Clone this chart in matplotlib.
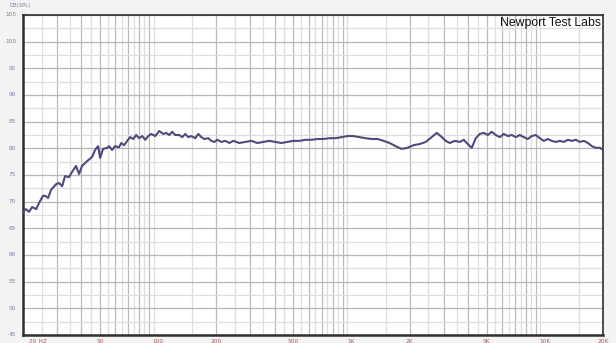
import matplotlib
matplotlib.use("Agg")
import matplotlib.pyplot as plt
from matplotlib.ticker import NullLocator

# Measured on-axis frequency response (Hz, dB SPL)
freq_hz = [20.0, 20.7, 21.5, 22.3, 23.4, 24.2, 25.4, 26.0, 27.0, 27.9, 29.7, 30.7,
           31.9, 33.0, 34.6, 35.9, 37.6, 39.0, 40.4, 42.9, 45.6, 47.2, 48.9, 50.1,
           51.9, 54.5, 55.8, 57.8, 59.9, 62.8, 64.4, 66.7, 69.2, 71.7, 74.3, 77.0,
           79.8, 82.7, 85.8, 88.9, 92.1, 96.6, 101.3, 106.3, 110.1, 114.1, 118.3,
           122.6, 128.6, 133.3, 138.2, 143.2, 148.5, 155.7, 161.4, 167.3, 173.4,
           181.9, 188.3, 195.2, 202.4, 212.3, 222.7, 233.6, 245, 263, 283, 304, 326,
           350, 376, 404, 434, 467, 501, 538, 578, 621, 667, 717, 770, 827, 889, 955,
           1025, 1101, 1183, 1271, 1365, 1466, 1575, 1692, 1818, 1952, 2097, 2253,
           2421, 2600, 2761, 2894, 3073, 3224, 3423, 3633, 3811, 3996, 4191, 4396,
           4611, 4835, 5071, 5318, 5577, 5850, 6135, 6435, 6749, 7078, 7424, 7785,
           8166, 8565, 8982, 9423, 9882, 10365, 10873, 11405, 11960, 12545, 13161,
           13804, 14477, 15183, 15930, 16709, 17525, 18380, 19290, 20000]
spl_db = [68.1, 68.6, 68.1, 69.0, 68.6, 69.75, 71.1, 71.1, 70.7, 72.2, 73.3, 73.5,
          72.9, 74.8, 74.6, 75.6, 76.7, 75.2, 76.7, 77.6, 78.4, 79.7, 80.4, 78.2,
          79.9, 80.1, 80.4, 79.7, 80.4, 80.2, 81.0, 80.6, 81.4, 82.1, 81.75, 82.5,
          81.9, 82.3, 81.6, 82.3, 82.7, 82.3, 83.25, 82.7, 82.9, 82.5, 83.1, 82.5,
          82.5, 82.1, 82.7, 82.1, 82.3, 81.9, 82.7, 82.1, 81.75, 81.9, 81.4, 81.2,
          81.6, 81.2, 81.4, 81.0, 81.4, 81.0, 81.2, 81.4, 81.0, 81.2, 81.4, 81.2,
          81.0, 81.2, 81.4, 81.4, 81.6, 81.6, 81.75, 81.75, 81.9, 81.9, 82.1, 82.3,
          82.3, 82.1, 81.9, 81.75, 81.75, 81.4, 81.0, 80.4, 79.9, 80.1, 80.6, 80.8,
          81.2, 82.1, 82.9, 82.3, 81.4, 81.0, 81.4, 81.2, 81.6, 80.8, 80.1, 81.9,
          82.7, 82.9, 82.5, 83.1, 82.5, 82.1, 82.7, 82.3, 82.5, 82.1, 82.5, 82.1,
          81.75, 82.3, 82.5, 81.9, 81.4, 81.75, 81.4, 81.2, 81.4, 81.2, 81.6, 81.4,
          81.6, 81.2, 81.4, 81.0, 80.4, 80.1, 80.1, 79.7]

# Axis labelling
x_ticks = [20, 50, 100, 200, 500, 1000, 2000, 5000, 10000, 20000]
x_tick_labels = ["20 HZ", "50", "100", "200", "500", "1K", "2K", "5K", "10K", "20K"]
y_ticks = [45, 50, 55, 60, 65, 70, 75, 80, 85, 90, 95, 100, 105]

fig = plt.figure(figsize=(6.16, 3.43), dpi=100, facecolor="#f3f3f3")
ax = fig.add_axes([23 / 616, 8 / 343, 580 / 616, 320 / 343])
ax.set_facecolor("white")
ax.set_xscale("log")
ax.set_xlim(20, 20000)
ax.set_ylim(45, 105)

# grid: whole steps darker, half steps lighter
dark_v, light_v = [], []
for base in (10, 100, 1000):
    for m in range(2, 10):
        f = m * base
        if 20 < f < 20000:
            dark_v.append(f)
light_v += list(range(25, 100, 10))
light_v += list(range(250, 1000, 100))
light_v += [150, 1500, 15000]
light_v += list(range(2500, 10000, 1000))
for f in light_v:
    ax.axvline(f, color="#dedede", lw=0.9, zorder=1)
for f in dark_v:
    ax.axvline(f, color="#bababa", lw=0.9, zorder=1)
for v in range(45, 106, 5):
    ax.axhline(v, color="#b6b6b6", lw=0.9, zorder=1)
for v in range(45, 105, 5):
    ax.axhline(v + 2.5, color="#dedede", lw=0.9, zorder=1)

ax.plot(freq_hz, spl_db, color="#4e4b7c", lw=1.5, zorder=3)

for s in ax.spines.values():
    s.set_color("#2e2e2e")
    s.set_linewidth(1.2)
ax.spines["left"].set_linewidth(1.8)
ax.spines["bottom"].set_linewidth(1.8)

ax.xaxis.set_major_locator(NullLocator())
ax.xaxis.set_minor_locator(NullLocator())
ax.yaxis.set_major_locator(NullLocator())
ax.tick_params(length=0)

for f, lab in zip(x_ticks, x_tick_labels):
    ha = "left" if f == 20 else "center"
    xt = 20 * 1.07 if f == 20 else f
    ax.text(xt, -0.012, lab, transform=ax.get_xaxis_transform(), ha=ha, va="top",
            fontsize=4.2, color="#b05a5e")
for v in y_ticks:
    ax.text(-0.012, v, str(v), transform=ax.get_yaxis_transform(), ha="right",
            va="center", fontsize=4.2, color="#7582a3")
fig.text(9 / 616, 1 - 6 / 343, "DB(SPL)", ha="left", va="center", fontsize=3.8,
         color="#7582a3")

ax.text(0.997, 0.976, "Newport Test Labs", transform=ax.transAxes, ha="right",
        va="center", fontsize=8.8, family="Liberation Sans", color="#111111", zorder=4)

fig.savefig("out.png", dpi=100, facecolor=fig.get_facecolor())
